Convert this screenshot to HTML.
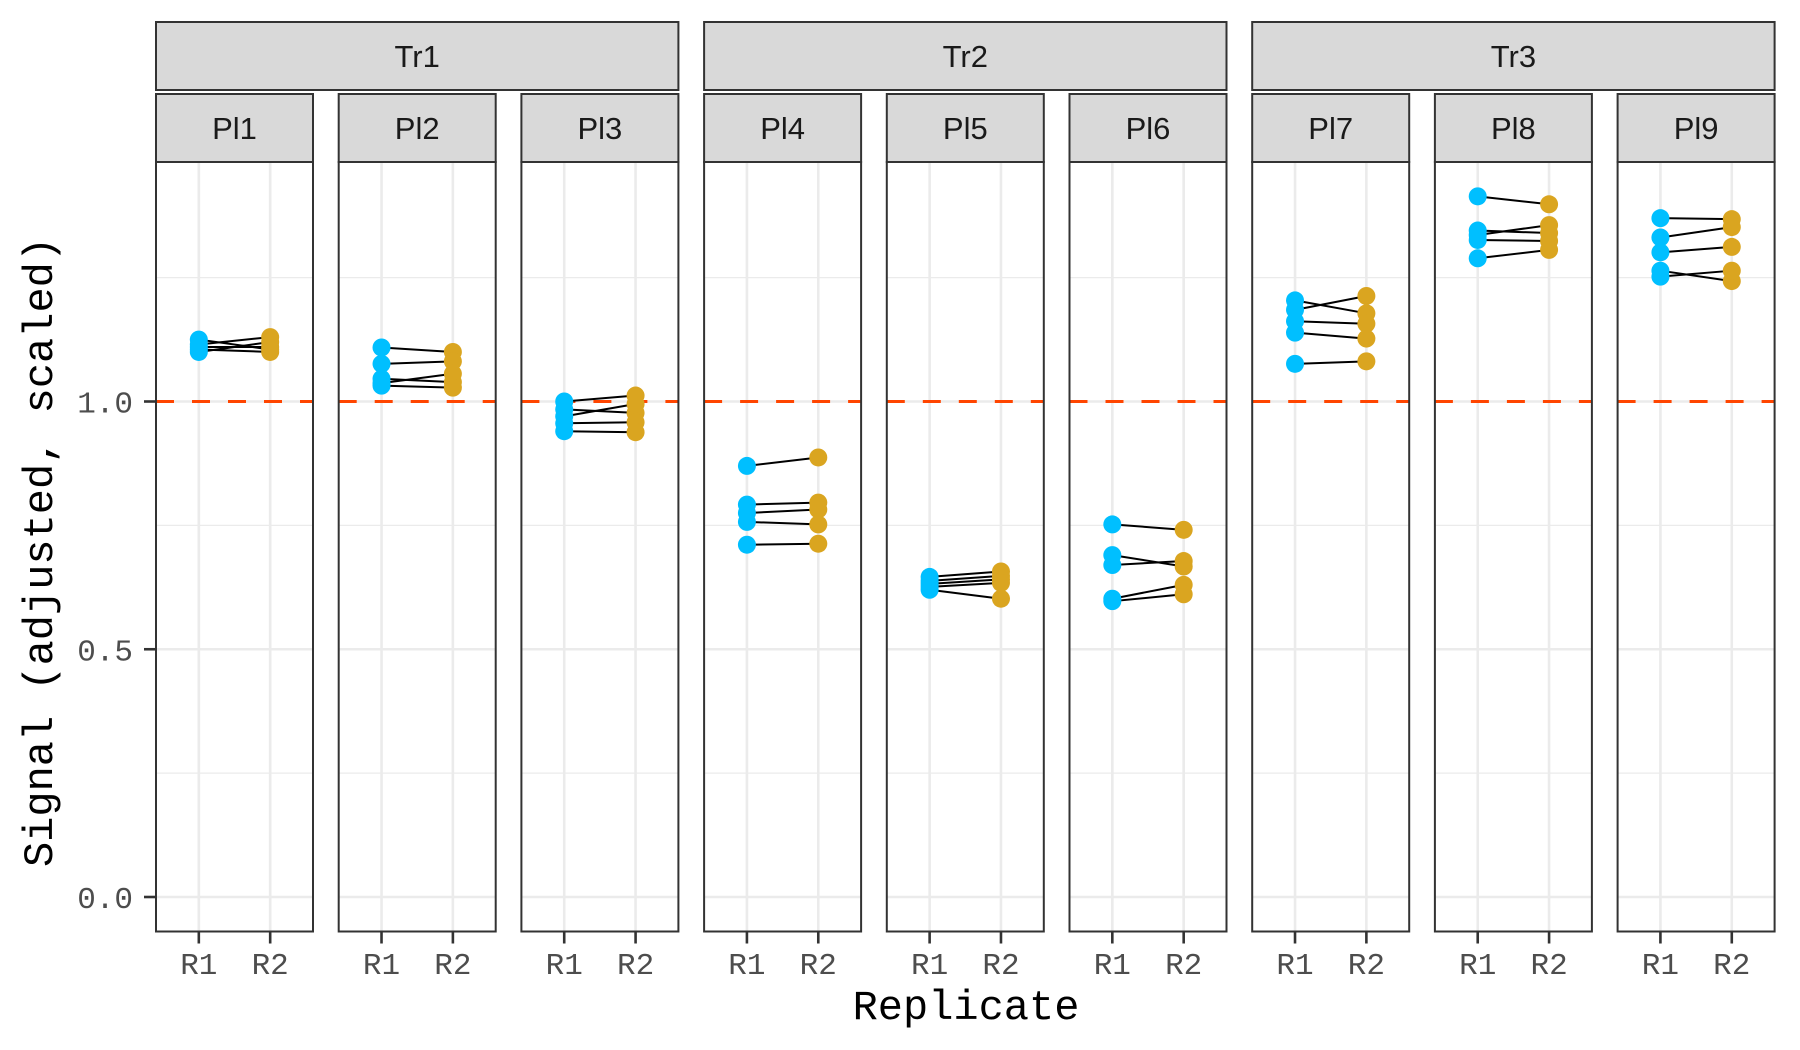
<!DOCTYPE html>
<html><head><meta charset="utf-8"><style>
html,body{margin:0;padding:0;background:#fff;}
svg{display:block;}
</style></head><body>
<svg id="chart" width="1800" height="1050" viewBox="0 0 1800 1050" xmlns="http://www.w3.org/2000/svg">
<rect width="1800" height="1050" fill="#fff"/>
<g id="panels"></g>
<text transform="translate(52,552) rotate(-90)" text-anchor="middle" font-family="Liberation Mono, monospace" font-size="42" fill="#000">Signal (adjusted, scaled)</text>
<text x="966" y="1019" text-anchor="middle" font-family="Liberation Mono, monospace" font-size="42" fill="#000">Replicate</text>
</svg>
<script>
const treatments = ["Tr1","Tr2","Tr3"];
const plates = ["Pl1","Pl2","Pl3","Pl4","Pl5","Pl6","Pl7","Pl8","Pl9"];
const replicates = ["R1","R2"];
const yTicks = [0, 0.5, 1.0];
const yTickLabels = ["0.0","0.5","1.0"];
const yMinor = [0.25, 0.75, 1.25];
const refLine = 1.0;
const r1Values = [
  [1.125,1.115,1.11,1.105,1.10],
  [1.109,1.076,1.046,1.037,1.032],
  [1.0,0.984,0.970,0.956,0.940],
  [0.870,0.792,0.775,0.757,0.711],
  [0.646,0.638,0.632,0.626,0.620],
  [0.752,0.690,0.670,0.602,0.597],
  [1.204,1.185,1.162,1.139,1.076],
  [1.414,1.345,1.336,1.326,1.289],
  [1.370,1.331,1.301,1.264,1.252]
];
const r2Values = [
  [1.105,1.13,1.11,1.10,1.12],
  [1.100,1.081,1.039,1.056,1.028],
  [1.012,0.977,0.995,0.958,0.938],
  [0.887,0.796,0.782,0.752,0.713],
  [0.657,0.648,0.641,0.634,0.602],
  [0.741,0.667,0.678,0.630,0.611],
  [1.178,1.213,1.157,1.127,1.081],
  [1.398,1.340,1.356,1.324,1.306],
  [1.368,1.352,1.312,1.243,1.264]
];

const NS = "http://www.w3.org/2000/svg";
const root = document.getElementById("panels");
const P0 = 156, PW = 157, STEP = 182.7, PT = 162, PB = 931.5;
const yScale = v => 897 - v * 495.5;
const xScale = (i, k) => P0 + i * STEP + PW * (k + 1 - 0.4) / 2.2;
function mk(tag, attrs, parent) {
  const e = document.createElementNS(NS, tag);
  for (const k in attrs) e.setAttribute(k, attrs[k]);
  parent.appendChild(e);
  return e;
}
treatments.forEach((t, j) => {
  const x0 = P0 + j * 3 * STEP, x1 = P0 + (j * 3 + 2) * STEP + PW;
  const g = mk("g", {}, root);
  
  
  mk("rect", {x: x0, y: 22, width: x1 - x0, height: 68, fill: "#D9D9D9", stroke: "#333", "stroke-width": 2}, g);
  const tx = mk("text", {x: (x0 + x1) / 2, y: 67, "text-anchor": "middle", "font-family": "Liberation Sans, sans-serif", "font-size": 31, fill: "#1a1a1a"}, g);
  tx.textContent = t;
});
plates.forEach((p, i) => {
  const x0 = P0 + i * STEP;
  const g = mk("g", {}, root);
  
  
  mk("rect", {x: x0, y: 94, width: PW, height: PT - 94, fill: "#D9D9D9", stroke: "#333", "stroke-width": 2}, g);
  const st = mk("text", {x: x0 + PW / 2, y: 139, "text-anchor": "middle", "font-family": "Liberation Sans, sans-serif", "font-size": 31, fill: "#1a1a1a"}, g);
  
  
  st.textContent = p;
  yMinor.forEach(v => mk("line", {x1: x0, x2: x0 + PW, y1: yScale(v), y2: yScale(v), stroke: "#EBEBEB", "stroke-width": 1.3}, g));
  yTicks.forEach(v => mk("line", {x1: x0, x2: x0 + PW, y1: yScale(v), y2: yScale(v), stroke: "#EBEBEB", "stroke-width": 2.6}, g));
  replicates.forEach((r, k) => {
    mk("line", {x1: xScale(i, k), x2: xScale(i, k), y1: PT, y2: PB, stroke: "#EBEBEB", "stroke-width": 2.6}, g);
    mk("line", {x1: xScale(i, k), x2: xScale(i, k), y1: PB, y2: PB + 12, stroke: "#333", "stroke-width": 2.6}, g);
    const lt = mk("text", {x: xScale(i, k), y: 974, "text-anchor": "middle", "font-family": "Liberation Mono, monospace", "font-size": 31, fill: "#4D4D4D"}, g);
    
    
    lt.textContent = r;
  });
  const rl = mk("line", {x1: x0, x2: x0 + PW, y1: yScale(refLine), y2: yScale(refLine), stroke: "#FF4500", "stroke-width": 3, "stroke-dasharray": "18,18"}, g);
  
  
  r1Values[i].forEach((v, n) => {
    const ln = mk("line", {x1: xScale(i, 0), y1: yScale(v), x2: xScale(i, 1), y2: yScale(r2Values[i][n]), stroke: "#000", "stroke-width": 2}, g);
    
    
  });
  r1Values[i].forEach(v => {
    const c = mk("circle", {cx: xScale(i, 0), cy: yScale(v), r: 9, fill: "#00BFFF"}, g);
    
    
  });
  r2Values[i].forEach(v => {
    const c = mk("circle", {cx: xScale(i, 1), cy: yScale(v), r: 9, fill: "#DAA520"}, g);
    
    
  });
  mk("rect", {x: x0, y: PT, width: PW, height: PB - PT, fill: "none", stroke: "#333", "stroke-width": 2}, g);
});
yTicks.forEach((v, n) => {
  mk("line", {x1: 144, x2: 156, y1: yScale(v), y2: yScale(v), stroke: "#333", "stroke-width": 2.6}, root);
  const t = mk("text", {x: 133, y: yScale(v) + 11, "text-anchor": "end", "font-family": "Liberation Mono, monospace", "font-size": 31, fill: "#4D4D4D"}, root);
  
  
  t.textContent = yTickLabels[n];
});
</script>
</body></html>
